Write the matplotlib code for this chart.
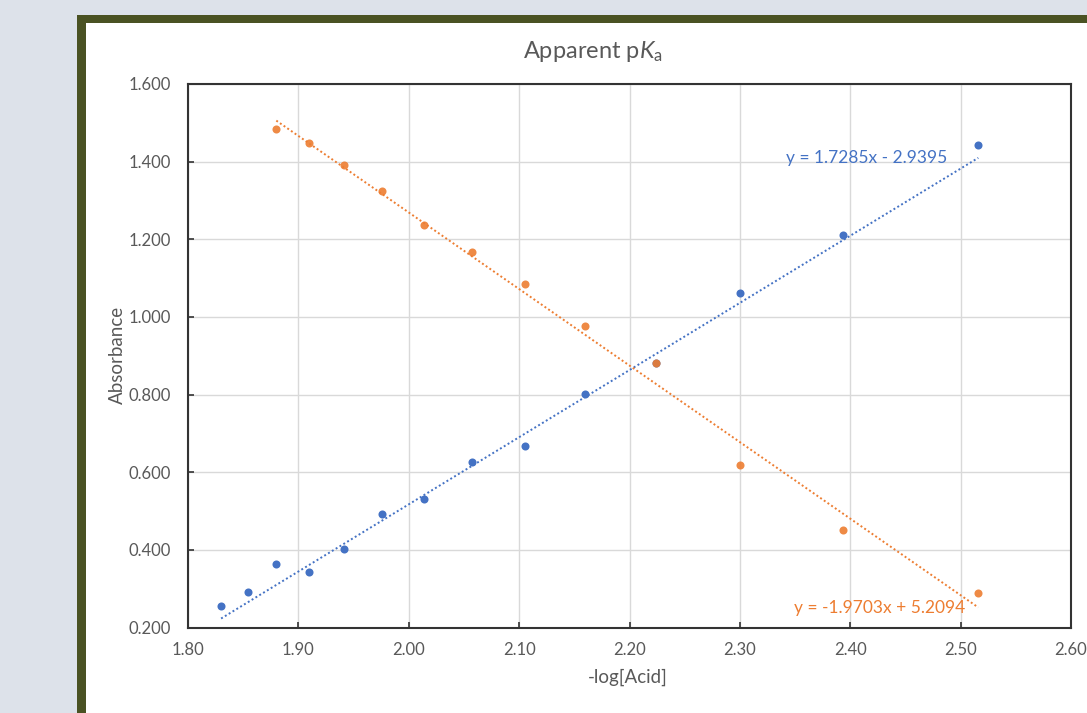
import matplotlib
matplotlib.use('Agg')
import matplotlib.pyplot as plt
from matplotlib.patches import Rectangle
import numpy as np

# ---- data ----
x_blue = [1.830, 1.854, 1.880, 1.910, 1.941, 1.976, 2.014, 2.057, 2.105, 2.160, 2.224, 2.300, 2.393, 2.516]
y_blue = [0.256, 0.292, 0.363, 0.344, 0.403, 0.493, 0.530, 0.626, 0.668, 0.801, 0.881, 1.062, 1.210, 1.443]
x_orange = [1.880, 1.910, 1.941, 1.976, 2.014, 2.057, 2.105, 2.160, 2.224, 2.300, 2.393, 2.516]
y_orange = [1.484, 1.448, 1.392, 1.325, 1.237, 1.166, 1.084, 0.976, 0.881, 0.619, 0.452, 0.289]
blue_slope, blue_intercept = 1.7285, -2.9395
orange_slope, orange_intercept = -1.9703, 5.2094
x_ticks = [1.80, 1.90, 2.00, 2.10, 2.20, 2.30, 2.40, 2.50, 2.60]
y_ticks = [0.2, 0.4, 0.6, 0.8, 1.0, 1.2, 1.4, 1.6]
title = r'Apparent p$\mathit{K}_{\mathrm{a}}$'
xlabel = '-log[Acid]'
ylabel = 'Absorbance'
blue_eq = 'y = 1.7285x - 2.9395'
orange_eq = 'y = -1.9703x + 5.2094'

BLUE = '#4472C4'
ORANGE = '#ED7D31'
GRAY = '#595959'

plt.rcParams['font.family'] = ['Lato', 'DejaVu Sans']
plt.rcParams['mathtext.fontset'] = 'custom'
plt.rcParams['mathtext.rm'] = 'Lato'
plt.rcParams['mathtext.it'] = 'Lato:italic'

W, H = 1087, 713
fig = plt.figure(figsize=(W / 100, H / 100), dpi=100)
fig.patch.set_facecolor('#dde2ea')


def fx(px):
    return px / W


def fy(py):
    return 1 - py / H


fig.add_artist(Rectangle((fx(77), -0.1), 1.2, fy(15) + 0.1, transform=fig.transFigure,
                         facecolor='#4a5223', edgecolor='none', zorder=-3))
fig.add_artist(Rectangle((fx(86), -0.1), 1.2, fy(23) + 0.1, transform=fig.transFigure,
                         facecolor='white', edgecolor='none', zorder=-2))

ax = fig.add_axes([fx(188), fy(627.7), fx(1071) - fx(188), fy(83.8) - fy(627.7)])
ax.set_facecolor('white')
ax.set_xlim(1.8, 2.6)
ax.set_ylim(0.2, 1.6)
ax.set_xticks(x_ticks)
ax.set_yticks(y_ticks)
ax.set_xticklabels([f'{v:.2f}' for v in x_ticks])
ax.set_yticklabels([f'{v:.3f}' for v in y_ticks])
ax.grid(True, color='#d9d9d9', lw=1)
ax.set_axisbelow(True)
for s in ax.spines.values():
    s.set_color('#333333')
    s.set_linewidth(1.5)
ax.tick_params(direction='in', length=4, width=1.2, color='#333333',
               labelsize=12, labelcolor=GRAY)
ax.tick_params(axis='y', pad=12)
ax.tick_params(axis='x', pad=10)

# trendlines
xb = np.array([min(x_blue), max(x_blue)])
ax.plot(xb, blue_slope * xb + blue_intercept, color=BLUE, lw=1.4, ls=(0, (1, 1.3)), zorder=2)
xo = np.array([min(x_orange), max(x_orange)])
ax.plot(xo, orange_slope * xo + orange_intercept, color=ORANGE, lw=1.4, ls=(0, (1, 1.3)), zorder=2)

ax.plot(x_blue, y_blue, 'o', color=BLUE, ms=5.8, mec='none', zorder=3)
ax.plot(x_orange, y_orange, 'o', color=ORANGE, ms=5.8, mec='none', zorder=3, alpha=0.9)

ax.text(2.488, 1.408, blue_eq, color=BLUE, fontsize=12.5, ha='right', va='center')
ax.text(2.504, 0.251, orange_eq, color=ORANGE, fontsize=12.5, ha='right', va='center')

fig.text(fx(593), fy(51), title, ha='center', va='center', fontsize=17, color=GRAY)
fig.text(fx(628), fy(677), xlabel, ha='center', va='center', fontsize=13.5, color=GRAY)
fig.text(fx(117), fy(355), ylabel, ha='center', va='center', fontsize=13.5, color=GRAY, rotation=90)

fig.savefig('out.png', dpi=100, facecolor=fig.get_facecolor())
